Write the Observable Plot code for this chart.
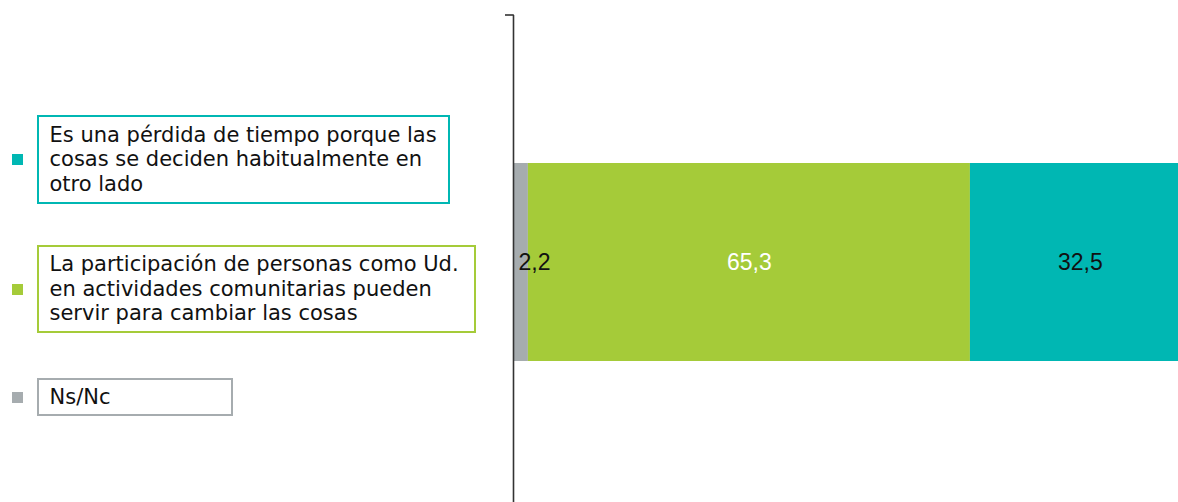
<!DOCTYPE html>
<html>
<head>
<meta charset="utf-8">
<script src="https://cdn.jsdelivr.net/npm/d3@7"></script>
<script src="https://cdn.jsdelivr.net/npm/@observablehq/plot@0.6"></script>
<style>
  html, body { margin: 0; padding: 0; overflow: hidden; background: #fff; }
  #wrap { position: relative; width: 1178px; height: 502px; }
  #chart { position: absolute; left: 0; top: 0; }
  .lg-box { position: absolute; left: 37px; box-sizing: border-box; border: 2.4px solid; background: #fff;
            display: flex; align-items: center; padding-left: 10.5px;
            font-family: "DejaVu Sans", sans-serif; font-size: 21px; line-height: 24.5px; color: #111;
            white-space: pre-line; }
  .lg-mark { position: absolute; left: 12px; width: 11px; height: 11px; }
</style>
</head>
<body>
<div id="wrap"><div id="chart"></div></div>
<script>
// ---- data ----
const categories = [
  "Ns/Nc",
  "La participación de personas como Ud.\nen actividades comunitarias pueden\nservir para cambiar las cosas",
  "Es una pérdida de tiempo porque las\ncosas se deciden habitualmente en\notro lado"
];
const values = [2.2, 65.3, 32.5];
const colors = ["#A6ACAF", "#A5CB39", "#00B7B3"];

// ---- derived table ----
const ends = d3.cumsum(values);
const rows = categories.map((c, i) => ({
  row: "r",
  category: c,
  value: values[i],
  start: ends[i] - values[i],
  end: ends[i],
  mid: ends[i] - values[i] / 2,
  label: d3.format(".1f")(values[i]).replace(".", ",")
}));

const fmtFont = {fontFamily: "Liberation Sans, Arial, sans-serif", fontSize: 23};

const chart = Plot.plot({
  width: 1178,
  height: 502,
  marginLeft: 513,
  marginRight: 0,
  marginTop: 15,
  marginBottom: 0,
  style: {background: "transparent", overflow: "hidden"},
  x: {domain: [0, 98.24], axis: null},
  y: {domain: ["r"], range: [163, 361], padding: 0, axis: null},
  color: {domain: categories, range: colors},
  marks: [
    Plot.barX(rows, {x1: "start", x2: "end", y: "row", fill: "category", clip: true}),
    Plot.ruleX([0], {stroke: "#333", strokeWidth: 1.6}),
    Plot.text(rows, {filter: d => d.value < 5, x: "start", y: "row", text: "label", textAnchor: "start", dx: 5, fill: "#111", ...fmtFont}),
    Plot.text(rows, {filter: d => d.value >= 5 && d.category === categories[1], x: "mid", y: "row", text: "label", fill: "#ffffff", ...fmtFont}),
    Plot.text(rows, {filter: d => d.value >= 5 && d.category !== categories[1], x: "mid", y: "row", text: "label", fill: "#111", ...fmtFont})
  ]
});
document.getElementById("chart").appendChild(chart);

// top tick of the axis
const x0 = chart.scale("x").apply(0);
d3.select(chart).append("line")
  .attr("x1", x0 - 8).attr("x2", x0 + 0.8)
  .attr("y1", 15).attr("y2", 15)
  .attr("stroke", "#333").attr("stroke-width", 1.6);

// ---- legend (layout) ----
const legendLayout = [
  {idx: 2, top: 115, width: 413, height: 89},
  {idx: 1, top: 245, width: 439, height: 88},
  {idx: 0, top: 378, width: 196, height: 38}
];
const wrap = document.getElementById("wrap");
legendLayout.forEach(l => {
  const box = document.createElement("div");
  box.className = "lg-box";
  box.style.top = l.top + "px";
  box.style.width = l.width + "px";
  box.style.height = l.height + "px";
  box.style.borderColor = colors[l.idx];
  box.textContent = categories[l.idx];
  wrap.appendChild(box);
  const m = document.createElement("div");
  m.className = "lg-mark";
  m.style.background = colors[l.idx];
  m.style.top = (l.top + l.height / 2 - 5.5) + "px";
  wrap.appendChild(m);
});
</script>
</body>
</html>
